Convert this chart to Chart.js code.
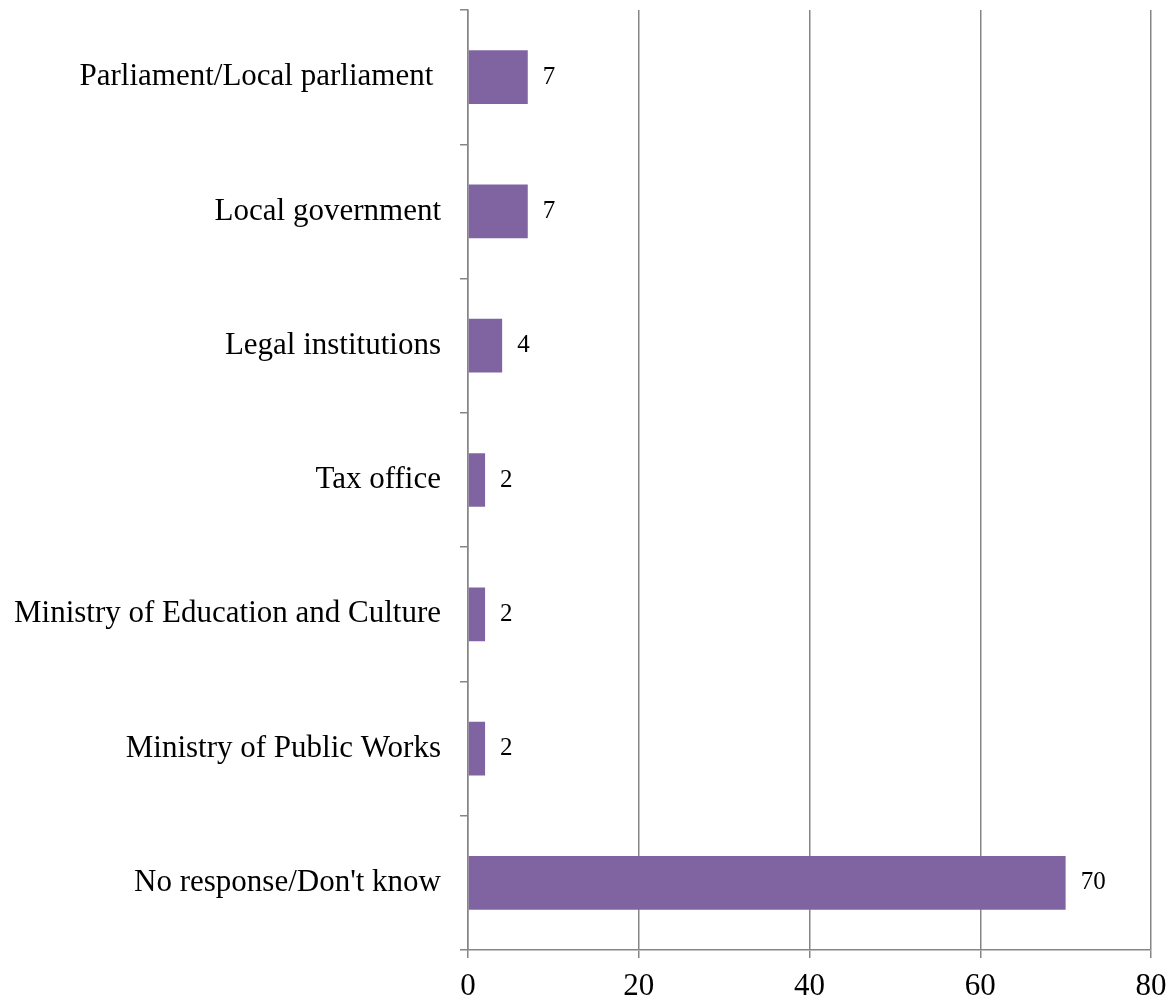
<!DOCTYPE html>
<html>
<head>
<meta charset="utf-8">
<script src="https://cdn.jsdelivr.net/npm/chart.js@4"></script>
<style>
  html, body { margin: 0; padding: 0; background: #fff; }
  #wrap { width: 1170px; height: 1000px; }
</style>
</head>
<body>
<div id="wrap"><canvas id="chart"></canvas></div>
<script>
const categories = [
  "Parliament/Local parliament ",
  "Local government",
  "Legal institutions",
  "Tax office",
  "Ministry of Education and Culture",
  "Ministry of Public Works",
  "No response/Don't know"
];
const values = [7, 7, 4, 2, 2, 2, 70];
const xTicks = [0, 20, 40, 60, 80];

const fontFamily = "'Liberation Serif', 'DejaVu Serif', serif";

// value labels to the right of each bar
const barLabels = {
  id: 'barLabels',
  afterDatasetsDraw(chart) {
    const ctx = chart.ctx;
    const meta = chart.getDatasetMeta(0);
    ctx.save();
    ctx.font = "25px " + fontFamily;
    ctx.fillStyle = "#000";
    ctx.textAlign = "left";
    ctx.textBaseline = "middle";
    meta.data.forEach((bar, i) => {
      ctx.fillText(String(values[i]), bar.x + 15, bar.y);
    });
    ctx.restore();
  }
};

const ctx = document.getElementById('chart').getContext('2d');
new Chart(ctx, {
  type: 'bar',
  data: {
    labels: categories,
    datasets: [{
      data: values,
      backgroundColor: '#8064A2',
      borderWidth: 0,
      barPercentage: 0.4,
      categoryPercentage: 1
    }]
  },
  options: {
    indexAxis: 'y',
    responsive: true,
    maintainAspectRatio: false,
    animation: false,
    layout: { padding: { top: 10, right: 19, left: 0, bottom: 0 } },
    plugins: { legend: { display: false }, tooltip: { enabled: false } },
    scales: {
      x: {
        min: 0,
        max: 80,
        afterBuildTicks: s => { s.ticks = xTicks.map(v => ({ value: v })); },
        afterFit: s => { s.height = 50; s.paddingLeft = 0; s.paddingRight = 0; },
        grid: { color: '#868686', lineWidth: 1.5, tickLength: 8 },
        border: { color: '#868686', width: 1.5 },
        ticks: { color: '#000', padding: 10, font: { family: fontFamily, size: 31 } }
      },
      y: {
        afterFit: s => { s.width = 468; s.paddingTop = 0; s.paddingBottom = 0; },
        grid: { drawOnChartArea: false, offset: true, color: '#868686', lineWidth: 1.5, tickLength: 8 },
        border: { color: '#868686', width: 1.5 },
        ticks: { color: '#000', padding: 19, font: { family: fontFamily, size: 31 } }
      }
    }
  },
  plugins: [barLabels]
});
</script>
</body>
</html>
